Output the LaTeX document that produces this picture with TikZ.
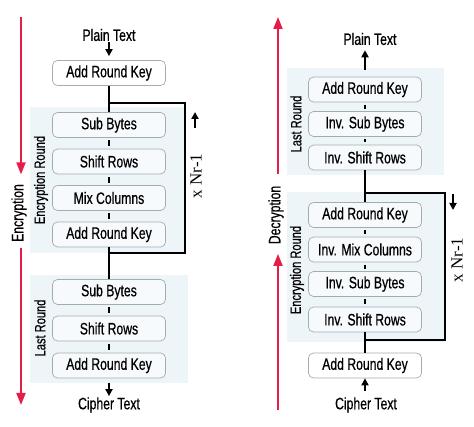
\documentclass[tikz,border=0pt]{standalone}
\usepackage{fontspec}
\setmainfont{Liberation Sans}[FakeStretch=0.74,FakeBold=0.6]
\newfontfamily\serifnr{Liberation Serif}
\usetikzlibrary{arrows.meta}

\definecolor{roundbg}{RGB}{238,245,248}
\definecolor{stageline}{RGB}{165,172,176}
\definecolor{dirred}{RGB}{229,29,72}

\tikzset{
	stage/.style={shape=rectangle,rounded corners=5pt,draw=stageline,line width=0.7pt,fill=white,minimum width=113pt,minimum height=25pt,inner sep=0pt,font=\fontsize{16.5}{18}\selectfont},
	inround/.style={stage,fill=white!55!roundbg},
	io/.style={font=\fontsize{16.5}{18}\selectfont,inner sep=1pt},
	sidename/.style={rotate=90,font=\fontsize{16.5}{18}\selectfont,inner sep=2pt},
	roundname/.style={rotate=90,font=\fontsize{15}{16}\selectfont,inner sep=0pt},
	timesnr/.style={rotate=90,font=\serifnr\fontsize{17}{19}\selectfont,inner sep=0pt},
	flow/.style={line width=2.4pt,black},
	link/.style={flow,shorten <=2.5pt,shorten >=2.5pt},
	roundloop/.style={line width=2pt,black},
	flowtip/.style={-{Triangle[length=7pt,width=7pt]},line width=2pt},
	dirarrow/.style={draw=dirred,line width=1.8pt,-{Triangle[length=12pt,width=9pt]}}
}

\begin{document}
\begin{tikzpicture}[x=1pt,y=-1pt]

	\useasboundingbox (0,0) rectangle (474,427);

	\fill[roundbg] (30,107) rectangle (185,253);
	\fill[roundbg] (30,275) rectangle (188,383);
	\fill[roundbg] (287,68) rectangle (444,175);
	\fill[roundbg] (287,192) rectangle (445,342);

	\node[io]      (plainL)  at (109, 35)    {Plain Text};
	\node[stage]   (arkL0)   at (109, 73)    {Add Round Key};
	\node[inround] (subL1)   at (109, 125)   {Sub Bytes};
	\node[inround] (shiftL1) at (109, 161.5) {Shift Rows};
	\node[inround] (mixL1)   at (109, 198)   {Mix Columns};
	\node[inround] (arkL1)   at (109, 234.5) {Add Round Key};
	\node[inround] (subL2)   at (109, 292)   {Sub Bytes};
	\node[inround] (shiftL2) at (109, 328.5) {Shift Rows};
	\node[inround] (arkL2)   at (109, 365.5) {Add Round Key};
	\node[io]      (cipherL) at (109, 405)   {Cipher Text};

	\node[roundname] (encRoundL) at (41, 180) {Encryption Round};
	\node[roundname] (lastL)     at (40, 328) {Last Round};
	\node[sidename]  (encL)      at (19, 213) {Encryption};
	\node[timesnr]   (nrL)       at (196, 176) {x Nr-1};

	\coordinate (jL1) at (109, 103);
	\coordinate (cL1) at (185, 103);
	\coordinate (cL2) at (185, 253);
	\coordinate (jL2) at (109, 253);
	\coordinate (upL1) at (195, 128);
	\coordinate (upL2) at (195, 112);
	\coordinate (encTop) at (21, 17);
	\coordinate (encBot) at (21, 405);

	\draw[flowtip,shorten >=4pt] (plainL) -- (arkL0);
	\draw[flow] (arkL0) -- (subL1);
	\draw[link] (subL1) -- (shiftL1);
	\draw[link] (shiftL1) -- (mixL1);
	\draw[link] (mixL1) -- (arkL1);
	\draw[flow] (arkL1) -- (subL2);
	\draw[link] (subL2) -- (shiftL2);
	\draw[link] (shiftL2) -- (arkL2);
	\draw[flowtip,shorten <=5pt] (arkL2) -- (cipherL);
	\draw[roundloop] (jL1) -- (cL1) -- (cL2) -- (jL2);
	\draw[flowtip] (upL1) -- (upL2);
	\draw[dirarrow,shorten >=7.5pt] (encTop) -- (encTop |- encL.east);
	\draw[dirarrow,shorten <=3.5pt] (encBot |- encL.west) -- (encBot);

	\node[io]      (plainR)   at (370, 39)    {Plain Text};
	\node[inround] (arkR2)    at (365, 89.5)  {Add Round Key};
	\node[inround] (isubR2)   at (365, 124)   {Inv. Sub Bytes};
	\node[inround] (ishiftR2) at (365, 157.5) {Inv. Shift Rows};
	\node[inround] (arkR1)    at (365, 215)   {Add Round Key};
	\node[inround] (imixR1)   at (365, 249.5) {Inv. Mix Columns};
	\node[inround] (isubR1)   at (365, 284)   {Inv. Sub Bytes};
	\node[inround] (ishiftR1) at (365, 319.5) {Inv. Shift Rows};
	\node[stage]   (arkR0)    at (365, 365.5) {Add Round Key};
	\node[io]      (cipherR)  at (366, 405)   {Cipher Text};

	\node[roundname] (lastR)     at (296, 124) {Last Round};
	\node[roundname] (encRoundR) at (297, 270) {Encryption Round};
	\node[sidename]  (decR)      at (276, 215) {Decryption};
	\node[timesnr]   (nrR)       at (457, 260) {x Nr-1};

	\coordinate (jR1) at (365, 193);
	\coordinate (cR1) at (445, 193);
	\coordinate (cR2) at (445, 340);
	\coordinate (jR2) at (365, 340);
	\coordinate (dnR1) at (453, 194);
	\coordinate (dnR2) at (453, 210);
	\coordinate (decBot) at (278, 410);
	\coordinate (decTop) at (278, 17);

	\draw[flowtip,shorten <=5pt] (cipherR.north -| arkR0) -- (arkR0);
	\draw[flow] (arkR0) -- (ishiftR1);
	\draw[link] (ishiftR1) -- (isubR1);
	\draw[link] (isubR1) -- (imixR1);
	\draw[link] (imixR1) -- (arkR1);
	\draw[flow] (arkR1) -- (ishiftR2);
	\draw[link] (ishiftR2) -- (isubR2);
	\draw[link] (isubR2) -- (arkR2);
	\draw[flowtip,shorten <=7pt,shorten >=4pt] (arkR2) -- (arkR2 |- plainR.south);
	\draw[roundloop] (jR1) -- (cR1) -- (cR2) -- (jR2);
	\draw[flowtip] (dnR1) -- (dnR2);
	\draw[dirarrow,shorten >=7.5pt] (decBot) -- (decBot |- decR.west);
	\draw[dirarrow,shorten <=10pt] (decTop |- decR.east) -- (decTop);

\end{tikzpicture}
\end{document}
